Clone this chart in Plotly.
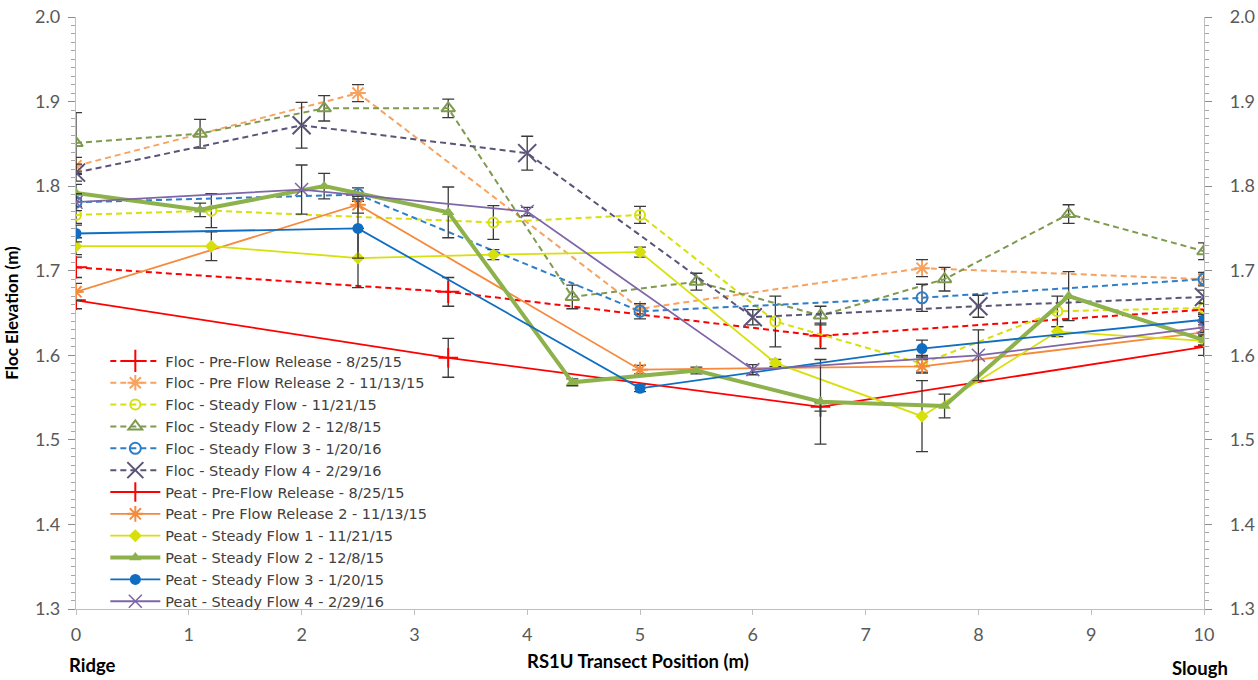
import plotly.graph_objects as go

# Transect positions (m) and elevations (m) for each survey
floc_pfr1_x = [0, 3.3, 6.6, 10]
floc_pfr1_y = [1.704, 1.675, 1.623, 1.654]
floc_pfr1_e = [0.012, 0.017, 0.015, 0.008]

floc_pfr2_x = [0, 2.5, 5, 7.5, 10]
floc_pfr2_y = [1.824, 1.910, 1.655, 1.703, 1.690]
floc_pfr2_e = [0.010, 0.010, 0.006, 0.010, 0.006]

floc_sf1_x = [0, 1.2, 3.7, 5, 6.2, 7.5, 8.7, 10]
floc_sf1_y = [1.766, 1.771, 1.757, 1.766, 1.640, 1.590, 1.652, 1.656]
floc_sf1_e = [0.010, 0.020, 0.020, 0.010, 0.030, 0.010, 0.018, 0.006]

floc_sf2_x = [0, 1.1, 2.2, 3.3, 4.4, 5.5, 6.6, 7.7, 8.8, 10]
floc_sf2_y = [1.851, 1.862, 1.892, 1.892, 1.669, 1.687, 1.647, 1.690, 1.767, 1.723]
floc_sf2_e = [0.036, 0.017, 0.015, 0.011, 0.014, 0.010, 0.011, 0.014, 0.011, 0.010]

floc_sf3_x = [0, 2.5, 5, 7.5, 10]
floc_sf3_y = [1.781, 1.790, 1.652, 1.668, 1.690]
floc_sf3_e = [0.005, 0.008, 0.009, 0.016, 0.008]

floc_sf4_x = [0, 2, 4, 6, 8, 10]
floc_sf4_y = [1.816, 1.872, 1.839, 1.645, 1.658, 1.669]
floc_sf4_e = [0.010, 0.027, 0.020, 0.009, 0.013, 0.008]

peat_pfr1_x = [0, 3.3, 6.6, 10]
peat_pfr1_y = [1.665, 1.597, 1.539, 1.610]
peat_pfr1_e = [0.010, 0.023, 0.005, 0.010]

peat_pfr2_x = [0, 2.5, 5, 7.5, 10]
peat_pfr2_y = [1.675, 1.778, 1.583, 1.587, 1.627]
peat_pfr2_e = [0.010, 0.010, 0.005, 0.008, 0.006]

peat_sf1_x = [0, 1.2, 2.5, 3.7, 5, 6.2, 7.5, 8.7, 10]
peat_sf1_y = [1.729, 1.729, 1.715, 1.719, 1.722, 1.591, 1.528, 1.628, 1.617]
peat_sf1_e = [0.010, 0.017, 0.035, 0.006, 0.006, 0.004, 0.042, 0.006, 0.005]

peat_sf2_x = [0, 1.1, 2.2, 3.3, 4.4, 5.5, 6.6, 7.7, 8.8, 10]
peat_sf2_y = [1.792, 1.772, 1.800, 1.769, 1.568, 1.582, 1.545, 1.540, 1.670, 1.618]
peat_sf2_e = [0.010, 0.008, 0.015, 0.030, 0.004, 0.004, 0.050, 0.014, 0.029, 0.006]

peat_sf3_x = [0, 2.5, 5, 7.5, 10]
peat_sf3_y = [1.744, 1.750, 1.561, 1.608, 1.642]
peat_sf3_e = [0.010, 0.035, 0.004, 0.010, 0.006]

peat_sf4_x = [0, 2, 4, 6, 8, 10]
peat_sf4_y = [1.781, 1.796, 1.770, 1.583, 1.600, 1.633]
peat_sf4_e = [0.010, 0.029, 0.005, 0.006, 0.030, 0.006]

names = [
    "Floc - Pre-Flow Release - 8/25/15",
    "Floc - Pre Flow Release 2 - 11/13/15",
    "Floc - Steady Flow - 11/21/15",
    "Floc - Steady Flow 2 - 12/8/15",
    "Floc - Steady Flow 3 - 1/20/16",
    "Floc - Steady Flow 4 - 2/29/16",
    "Peat - Pre-Flow Release - 8/25/15",
    "Peat - Pre Flow Release 2 - 11/13/15",
    "Peat - Steady Flow 1 - 11/21/15",
    "Peat - Steady Flow 2 - 12/8/15",
    "Peat - Steady Flow 3 - 1/20/15",
    "Peat - Steady Flow 4 - 2/29/16",
]

x_ticks = list(range(0, 11))
y_ticks = [1.3, 1.4, 1.5, 1.6, 1.7, 1.8, 1.9, 2.0]

RED = "#FF0000"
ORANGE_L = "#F7A25E"
ORANGE = "#F58A3C"
YELLOW = "#D7E00A"
OLIVE = "#7E9A4E"
GREEN = "#8DB24C"
BLUE_L = "#2F7FC8"
BLUE = "#0F6EC2"
SLATE = "#5A5478"
PURPLE = "#7E66A8"
ERR = "#3A3A3A"

FONT = "Lato"
DASH = "6px,4px"

series = [
    # x, y, err, color, dash, width, symbol, size, marker line width
    (floc_pfr1_x, floc_pfr1_y, floc_pfr1_e, RED, DASH, 2, "cross-thin-open", 16, 2),
    (floc_pfr2_x, floc_pfr2_y, floc_pfr2_e, ORANGE_L, DASH, 2, "asterisk-open", 13, 2),
    (floc_sf1_x, floc_sf1_y, floc_sf1_e, YELLOW, DASH, 2, "circle-open", 10, 2),
    (floc_sf2_x, floc_sf2_y, floc_sf2_e, OLIVE, DASH, 2, "triangle-up-open", 12, 2),
    (floc_sf3_x, floc_sf3_y, floc_sf3_e, BLUE_L, DASH, 2, "circle-open", 11, 2),
    (floc_sf4_x, floc_sf4_y, floc_sf4_e, SLATE, DASH, 2, "x-thin-open", 18, 2),
    (peat_pfr1_x, peat_pfr1_y, peat_pfr1_e, RED, None, 1.8, "cross-thin-open", 14, 2),
    (peat_pfr2_x, peat_pfr2_y, peat_pfr2_e, ORANGE, None, 1.8, "asterisk-open", 13, 2),
    (peat_sf1_x, peat_sf1_y, peat_sf1_e, YELLOW, None, 1.8, "diamond", 10, 0),
    (peat_sf2_x, peat_sf2_y, peat_sf2_e, GREEN, None, 4, "triangle-up", 11, 0),
    (peat_sf3_x, peat_sf3_y, peat_sf3_e, BLUE, None, 1.8, "circle", 11, 0),
    (peat_sf4_x, peat_sf4_y, peat_sf4_e, PURPLE, None, 1.8, "x-thin-open", 13, 1.6),
]

fig = go.Figure()

for name, (xs, ys, es, color, dash, width, symbol, size, mlw) in zip(names, series):
    line = dict(color=color, width=width)
    if dash:
        line["dash"] = dash
    fig.add_trace(go.Scatter(
        x=xs, y=ys, name=name, mode="lines+markers",
        line=line,
        marker=dict(symbol=symbol, size=size, color=color,
                    line=dict(color=color, width=mlw)),
        error_y=dict(type="data", array=es, visible=True,
                     color=ERR, thickness=1.3, width=6),
    ))

# empty trace so the right-hand elevation axis is drawn
fig.add_trace(go.Scatter(x=[], y=[], yaxis="y2", showlegend=False,
                         hoverinfo="skip"))

axis_line = "#BFBFBF"
tick_font = dict(family=FONT, size=18, color="#595959")

fig.update_layout(
    width=1258, height=680,
    margin=dict(l=76, r=54, t=17, b=71, autoexpand=False),
    paper_bgcolor="white", plot_bgcolor="white",
    font=dict(family=FONT, color="#404040"),
    xaxis=dict(
        range=[0, 10], tickvals=x_ticks, ticktext=[str(v) for v in x_ticks],
        showgrid=False, zeroline=False, showline=True, linecolor=axis_line,
        linewidth=1.3, ticks="outside", ticklen=5, tickcolor=axis_line,
        tickfont=tick_font, ticklabelstandoff=4, automargin=False,
    ),
    yaxis=dict(
        range=[1.3, 2.0], tickvals=y_ticks,
        ticktext=[f"{v:.1f}" for v in y_ticks],
        showgrid=False, zeroline=False, showline=True, linecolor=axis_line,
        linewidth=1.3, ticks="outside", ticklen=7, tickcolor="#8C8C8C",
        tickfont=tick_font, ticklabelstandoff=4, automargin=False,
        minor=dict(dtick=0.01, ticks="outside", ticklen=4, tickcolor="#A6A6A6"),
        title=dict(text="<b>Floc Elevation (m)</b>",
                   font=dict(family=FONT, size=17, color="#000000"),
                   standoff=12),
    ),
    yaxis2=dict(
        range=[1.3, 2.0], tickvals=y_ticks,
        ticktext=[f"{v:.1f}" for v in y_ticks],
        overlaying="y", side="right", anchor="x",
        showgrid=False, zeroline=False, showline=True, linecolor=axis_line,
        linewidth=1.3, ticks="outside", ticklen=7, tickcolor="#8C8C8C",
        tickfont=tick_font, ticklabelstandoff=14, automargin=False,
        minor=dict(dtick=0.01, ticks="outside", ticklen=4, tickcolor="#A6A6A6"),
    ),
    legend=dict(
        x=0.026, y=0.446, xanchor="left", yanchor="top",
        bgcolor="rgba(0,0,0,0)", borderwidth=0,
        font=dict(family="DejaVu Sans", size=14.5, color="#404040"),
        itemwidth=50, tracegroupgap=0,
    ),
    showlegend=True,
)

annotations = [
    dict(text="<b>Ridge</b>", x=92, y=665),
    dict(text="<b>RS1U Transect Position (m)</b>", x=638, y=661),
    dict(text="<b>Slough</b>", x=1200, y=668),
]
for a in annotations:
    fig.add_annotation(
        text=a["text"], xref="paper", yref="paper",
        x=(a["x"] - 76) / 1128, y=1 - (a["y"] - 17) / 592,
        xanchor="center", yanchor="middle", showarrow=False,
        font=dict(family=FONT, size=18.5, color="#000000"),
    )

fig.write_html("out.html")
